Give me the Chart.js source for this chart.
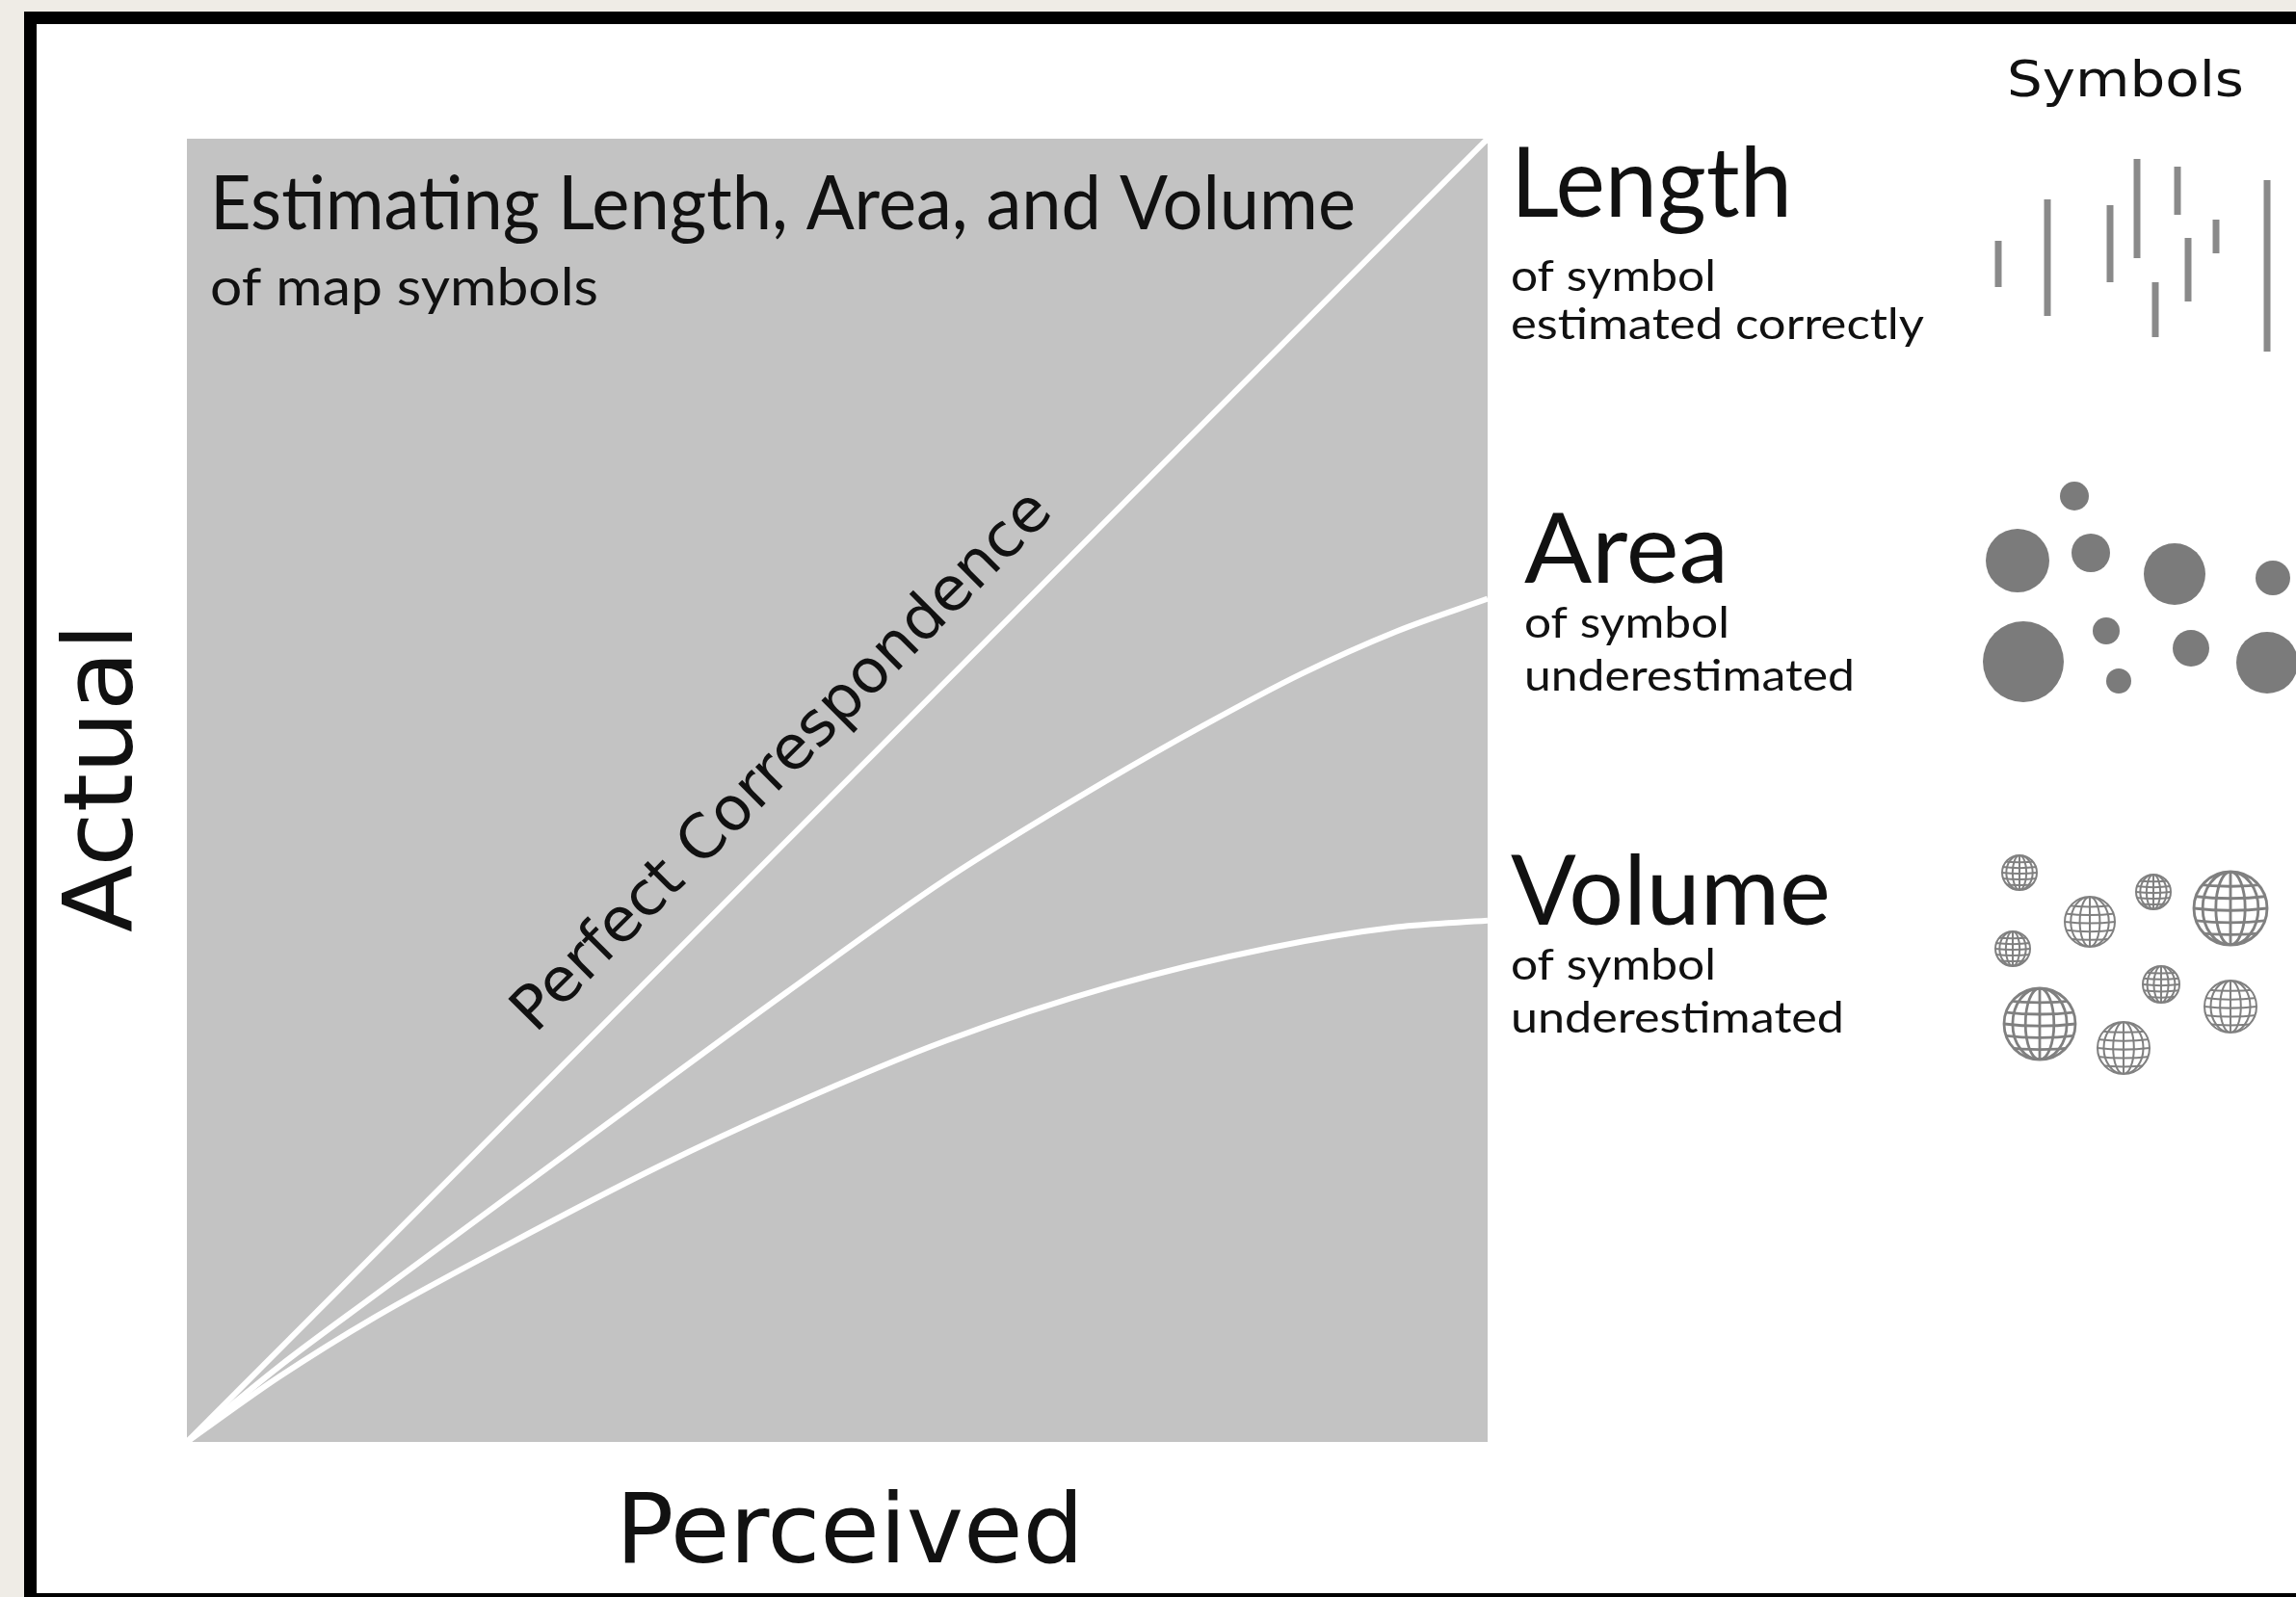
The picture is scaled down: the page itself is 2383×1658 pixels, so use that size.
<!DOCTYPE html>
<html>
<head>
<meta charset="utf-8">
<title>Estimating Length, Area, and Volume</title>
<script src="https://cdn.jsdelivr.net/npm/chart.js@4.4.1/dist/chart.umd.min.js"></script>
<style>
  html, body { margin: 0; padding: 0; background: #efece6; }
  #wrap { position: relative; width: 2383px; height: 1658px; overflow: hidden; }
  canvas { display: block; }
</style>
</head>
<body>
<div id="wrap"><canvas id="chart" width="2383" height="1658"></canvas></div>
<script>
// ---- data (perceived on x, actual on y, both 0..100) ----
const perfectX = [0, 100];
const perfectY = [0, 100];

const areaX = [0, 7.1, 14.5, 24.4, 33.8, 46.1, 58.4, 70.8, 78.2, 85.6, 93.0, 100];
const areaY = [0, 5.8, 11.3, 18.6, 25.5, 34.5, 43.2, 50.8, 55.0, 58.9, 62.2, 64.7];

const volumeX = [0, 7.1, 14.5, 24.4, 36.2, 46.1, 58.4, 71.2, 83.2, 93.0, 100];
const volumeY = [0, 5.0, 9.6, 15.0, 21.1, 25.7, 30.8, 35.0, 37.9, 39.5, 40.0];

// ---- text ----
const chartTitle = 'Estimating Length, Area, and Volume';
const chartSubtitle = 'of map symbols';
const xTitle = 'Perceived';
const yTitle = 'Actual';
const diagonalLabel = 'Perfect Correspondence';
const symbolsHeader = 'Symbols';
const symbolKinds = ['Length', 'Area', 'Volume'];
const symbolNotes = [
  ['of symbol', 'estimated correctly'],
  ['of symbol', 'underestimated'],
  ['of symbol', 'underestimated']
];

// ---- layout of the right-hand key (pixels) ----
const keyLayout = [
  { left: 1568, head: 225, headW: 292, lines: [302, 352], widths: [213, 429] },
  { left: 1582, head: 605, headW: 212, lines: [662, 717], widths: [213, 343] },
  { left: 1568, head: 960, headW: 332, lines: [1017, 1072], widths: [213, 346] }
];
const lengthBars = [
  [2074, 250, 298], [2125, 207, 328], [2190, 213, 293], [2218, 165, 268],
  [2237, 293, 350], [2260, 173, 223], [2271, 247, 313], [2300, 228, 263],
  [2353, 187, 365]
];
const areaDots = [
  [2153, 515, 15], [2094, 582, 33], [2170, 574, 20], [2257, 596, 32],
  [2359, 600, 18], [2100, 687, 42], [2186, 655, 14], [2199, 707, 13],
  [2274, 673, 19], [2353, 688, 32]
];
const volumeGlobes = [
  [2096, 906, 18], [2169, 957, 26], [2235, 926, 18], [2315, 943, 38],
  [2089, 985, 18], [2243, 1022, 19], [2315, 1045, 27], [2117, 1063, 37],
  [2204, 1088, 27]
];

const GILL = 'Lato, "Open Sans", sans-serif';
const VERA = '"DejaVu Sans", Verdana, sans-serif';

function toPoints(xs, ys) {
  return xs.map((x, i) => ({ x, y: ys[i] }));
}

// draw text squeezed horizontally to a target width
function fitText(ctx, text, x, y, font, width, align) {
  ctx.font = font;
  const w = ctx.measureText(text).width;
  const sx = width ? width / w : 1;
  ctx.save();
  ctx.translate(x, y);
  ctx.scale(sx, 1);
  ctx.textAlign = align || 'left';
  ctx.textBaseline = 'alphabetic';
  ctx.fillText(text, 0, 0);
  ctx.restore();
}

function drawGlobe(ctx, cx, cy, r) {
  ctx.save();
  ctx.strokeStyle = '#808080';
  ctx.lineWidth = Math.max(2, r * 0.075);
  ctx.beginPath();
  ctx.arc(cx, cy, r, 0, Math.PI * 2);
  ctx.stroke();
  ctx.clip();
  // meridians
  [0.4, 0.76].forEach(k => {
    ctx.beginPath();
    ctx.ellipse(cx, cy, r * k, r, 0, 0, Math.PI * 2);
    ctx.stroke();
  });
  ctx.beginPath();
  ctx.moveTo(cx, cy - r);
  ctx.lineTo(cx, cy + r);
  ctx.stroke();
  // parallels, slightly bowed
  [-0.66, -0.33, 0, 0.33, 0.66].forEach(k => {
    ctx.beginPath();
    ctx.moveTo(cx - r, cy + k * r);
    ctx.quadraticCurveTo(cx, cy + k * r + r * 0.12, cx + r, cy + k * r);
    ctx.stroke();
  });
  ctx.restore();
}

/**
 * Paper, black frame and grey plot panel
 */
const framePlugin = {
  id: 'frame',
  beforeDraw(chart) {
    const ctx = chart.ctx;
    const { left, top, right, bottom } = chart.chartArea;
    ctx.save();
    ctx.fillStyle = '#efece6';
    ctx.fillRect(0, 0, chart.width, chart.height);
    ctx.fillStyle = '#000';
    ctx.fillRect(25, 12, chart.width - 25, chart.height - 12);
    ctx.fillStyle = '#fff';
    ctx.fillRect(38, 25, chart.width - 38, chart.height - 25 - 4);
    ctx.fillStyle = '#c3c3c3';
    ctx.fillRect(left, top, right - left, bottom - top);
    ctx.restore();
  }
};

/**
 * Titles, axis names, diagonal label and the symbol key
 */
const annotationPlugin = {
  id: 'annotations',
  afterDraw(chart) {
    const ctx = chart.ctx;
    const { left, top, right, bottom } = chart.chartArea;
    const xs = chart.scales.x;
    const ys = chart.scales.y;
    ctx.save();
    ctx.fillStyle = '#111';

    // title block inside the panel
    fitText(ctx, chartTitle, left + 24, top + 94, '400 78px ' + GILL, 1189);
    fitText(ctx, chartSubtitle, left + 24, top + 173, '400 55px ' + GILL, 403);

    // axis names
    fitText(ctx, xTitle, (left + right) / 2 + 13, bottom + 125, '400 100px ' + VERA, 486, 'center');
    ctx.save();
    ctx.translate(left - 57, (top + bottom) / 2 - 13);
    ctx.rotate(-Math.PI / 2);
    fitText(ctx, yTitle, 0, 0, '400 100px ' + VERA, 321, 'center');
    ctx.restore();

    // label along the perfect-correspondence line
    const x0 = xs.getPixelForValue(0), y0 = ys.getPixelForValue(0);
    const x1 = xs.getPixelForValue(100), y1 = ys.getPixelForValue(100);
    const ang = Math.atan2(y1 - y0, x1 - x0);
    const t = 0.49;
    const off = 43;
    const px = x0 + (x1 - x0) * t + Math.sin(ang) * off;
    const py = y0 + (y1 - y0) * t - Math.cos(ang) * off;
    ctx.save();
    ctx.translate(px, py);
    ctx.rotate(ang);
    fitText(ctx, diagonalLabel, 0, 0, '400 63px ' + VERA, 763, 'center');
    ctx.restore();

    // key
    fitText(ctx, symbolsHeader, 2083, 100, '400 52px ' + VERA, 246);
    symbolKinds.forEach((kind, i) => {
      const k = keyLayout[i];
      fitText(ctx, kind, k.left, k.head, '400 100px ' + GILL, k.headW);
      symbolNotes[i].forEach((line, j) => {
        fitText(ctx, line, k.left, k.lines[j], '400 44px ' + GILL, k.widths[j]);
      });
    });

    // length symbols
    ctx.strokeStyle = '#8a8a8a';
    ctx.lineWidth = 7;
    ctx.lineCap = 'butt';
    lengthBars.forEach(([x, a, b]) => {
      ctx.beginPath();
      ctx.moveTo(x, a);
      ctx.lineTo(x, b);
      ctx.stroke();
    });

    // area symbols
    ctx.fillStyle = '#7b7b7b';
    areaDots.forEach(([x, y, r]) => {
      ctx.beginPath();
      ctx.arc(x, y, r, 0, Math.PI * 2);
      ctx.fill();
    });

    // volume symbols
    volumeGlobes.forEach(([x, y, r]) => drawGlobe(ctx, x, y, r));

    ctx.restore();
  }
};

const lineStyle = {
  showLine: true,
  borderColor: '#ffffff',
  borderWidth: 6,
  pointRadius: 0,
  fill: false
};

new Chart(document.getElementById('chart'), {
  type: 'scatter',
  data: {
    datasets: [
      { label: 'Length', data: toPoints(perfectX, perfectY), ...lineStyle },
      { label: 'Area', data: toPoints(areaX, areaY), ...lineStyle, cubicInterpolationMode: 'monotone' },
      { label: 'Volume', data: toPoints(volumeX, volumeY), ...lineStyle, cubicInterpolationMode: 'monotone' }
    ]
  },
  options: {
    responsive: false,
    devicePixelRatio: 1,
    animation: false,
    layout: {
      padding: { left: 194, top: 144, right: 2383 - 1544, bottom: 1658 - 1497 }
    },
    scales: {
      x: { type: 'linear', min: 0, max: 100, display: false },
      y: { type: 'linear', min: 0, max: 100, display: false }
    },
    plugins: {
      legend: { display: false },
      tooltip: { enabled: false }
    }
  },
  plugins: [framePlugin, annotationPlugin]
});
</script>
</body>
</html>
